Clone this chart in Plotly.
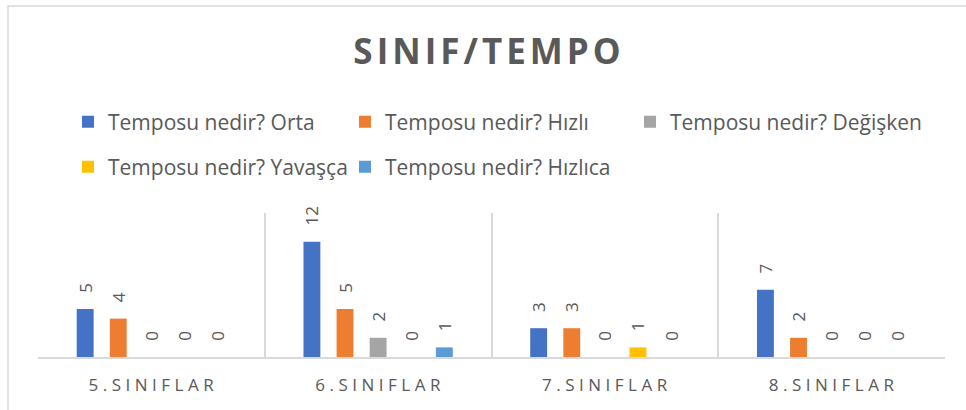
import plotly.graph_objects as go

categories = ["5.SINIFLAR", "6.SINIFLAR", "7.SINIFLAR", "8.SINIFLAR"]
series_names = [
    "Temposu nedir? Orta",
    "Temposu nedir? Hızlı",
    "Temposu nedir? Değişken",
    "Temposu nedir? Yavaşça",
    "Temposu nedir? Hızlıca",
]
orta = [5, 12, 3, 7]
hizli = [4, 5, 3, 2]
degisken = [0, 2, 0, 0]
yavasca = [0, 0, 1, 0]
hizlica = [0, 1, 0, 0]
series_values = [orta, hizli, degisken, yavasca, hizlica]
colors = ["#4472C4", "#ED7D31", "#A5A5A5", "#FFC000", "#5B9BD5"]
legend_ids = ["legend", "legend", "legend3", "legend2", "legend2"]

TXT = "#595959"
GRID = "#D9D9D9"
FONT = "Open Sans"

fig = go.Figure()
for name, vals, col, lg in zip(series_names, series_values, colors, legend_ids):
    fig.add_trace(go.Bar(
        x=categories, y=vals, name=name, marker_color=col,
        marker_line_width=0,
        texttemplate="\u00a0\u00a0\u00a0%{y}", textposition="outside",
        textangle=-90, constraintext="none", cliponaxis=False,
        textfont=dict(size=17, color=TXT, family=FONT),
        legend=lg,
    ))

W, H = 966, 410
ml, mr, mt, mb = 38, 21, 213, 53
pw, ph = W - ml - mr, H - mt - mb

legend_common = dict(
    orientation="h", xref="container", yref="container",
    x=68 / W, xanchor="left", yanchor="middle",
    entrywidth=232, entrywidthmode="pixels", itemwidth=30,
    font=dict(size=21, color=TXT, family=FONT),
    traceorder="normal", bgcolor="rgba(0,0,0,0)",
)

fig.update_layout(
    width=W, height=H,
    margin=dict(l=ml, r=mr, t=mt, b=mb, pad=0),
    paper_bgcolor="white", plot_bgcolor="white",
    barmode="group", bargap=0.27, bargroupgap=0.49,
    font=dict(family=FONT, color=TXT),
    title=dict(text="SINIF/TEMPO", x=489 / W, xanchor="center", xref="container",
               y=1 - 52 / H, yref="container", yanchor="middle",
               font=dict(size=35, family=FONT, color=TXT, weight="bold")),
    legend=dict(legend_common, y=1 - 122 / H),
    legend3=dict(legend_common, y=1 - 122 / H, x=630 / W, entrywidth=None,
                 entrywidthmode=None),
    legend2=dict(legend_common, y=1 - 167 / H),
    xaxis=dict(showgrid=True, gridcolor=GRID, gridwidth=1.5, tickson="boundaries",
               showline=True, linecolor=GRID, linewidth=1.5, ticks="",
               tickfont=dict(size=17, color=TXT, family=FONT),
               ticklabelstandoff=12, fixedrange=True),
    yaxis=dict(range=[0, 15], visible=False, showgrid=False, fixedrange=True),
    showlegend=True,
    shapes=[dict(type="rect", xref="paper", yref="paper",
                 x0=(8 - ml) / pw, x1=(980 - ml) / pw,
                 y0=(H - mb - 420) / ph, y1=(H - mb - 6) / ph,
                 line=dict(color=GRID, width=1.5), fillcolor="rgba(0,0,0,0)",
                 layer="below")],
)

post = """
document.body.style.margin='0';
var gd=document.getElementById('{plot_id}');
gd.querySelectorAll('.xtick text').forEach(function(t){t.setAttribute('letter-spacing','4.5px');t.setAttribute('dx','2');});
var tt=gd.querySelector('.gtitle'); if(tt){tt.setAttribute('letter-spacing','4px');}
"""
fig.write_html("out.html", config={"displayModeBar": False, "responsive": False},
               post_script=post)
